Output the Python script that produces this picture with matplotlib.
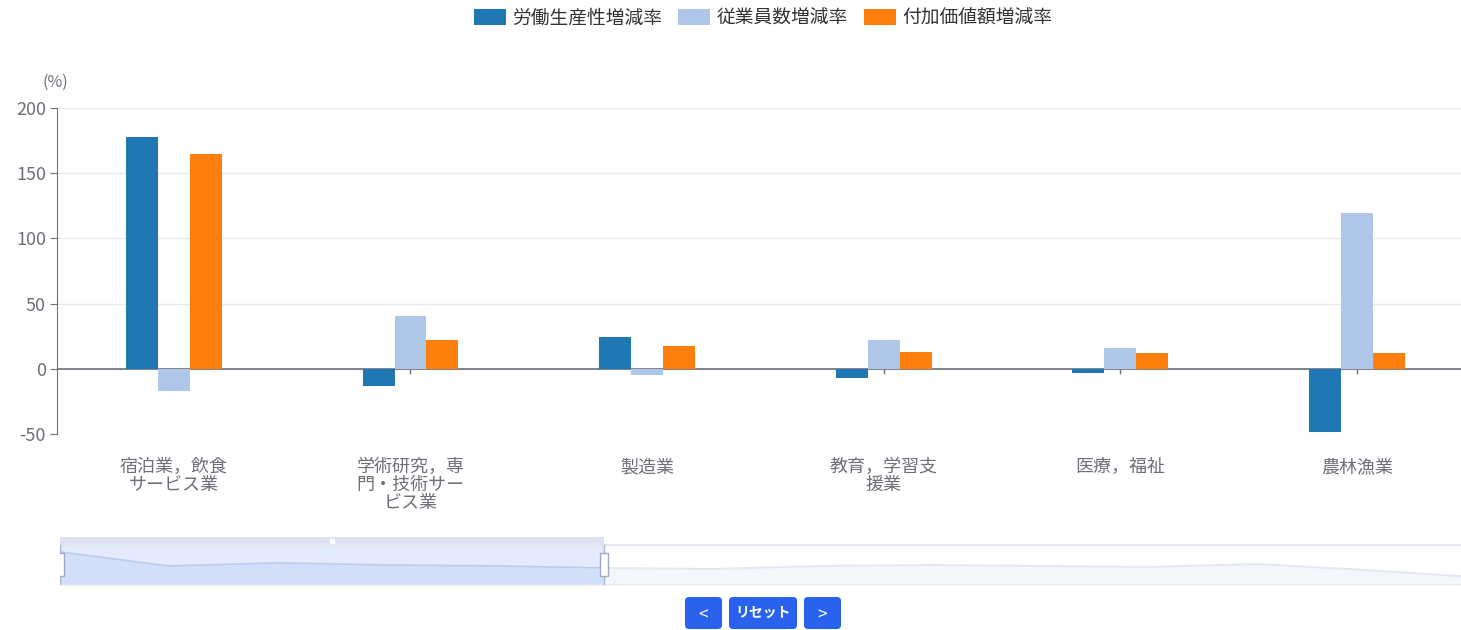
import numpy as np
import matplotlib
matplotlib.use("Agg")
import matplotlib.pyplot as plt
from matplotlib.patches import Rectangle, FancyBboxPatch, Patch

plt.rcParams['font.family'] = ['Noto Sans CJK JP', 'DejaVu Sans']
plt.rcParams['axes.unicode_minus'] = False

# data
categories = ['宿泊業，飲食\nサービス業', '学術研究，専\n門・技術サー\nビス業', '製造業',
              '教育，学習支\n援業', '医療，福祉', '農林漁業']
series_names = ['労働生産性増減率', '従業員数増減率', '付加価値額増減率']
labor_prod = [178, -13, 24.5, -7, -3, -48.5]
employees = [-17, 40.5, -5, 22, 16, 119.5]
value_added = [164.5, 22, 17.5, 13, 12, 12]
colors = ['#1f77b4', '#aec7e8', '#ff7f0e']
yticks = [-50, 0, 50, 100, 150, 200]
preview = [33, 19, 22, 20, 19, 17, 16, 19, 20, 19, 18, 21, 15, 8]
window_end = 5

W, H = 1461, 630
fig = plt.figure(figsize=(W / 100, H / 100), dpi=100)

def px_axes(x0, y0, x1, y1):
    return fig.add_axes([x0 / W, 1 - y1 / H, (x1 - x0) / W, (y1 - y0) / H])

# main chart
ax = px_axes(57, 108, 1476.6, 434)
x = np.arange(len(categories))
bw = 0.135
for i, (vals, c) in enumerate(zip([labor_prod, employees, value_added], colors)):
    ax.bar(x + (i - 1) * bw, vals, width=bw, color=c, zorder=3)
ax.vlines(x, 0, -3.8, color='#6e7079', lw=1, zorder=2)
ax.axhline(0, color='#6e7079', lw=1.2, zorder=2)
ax.set_xlim(-0.494, len(categories) - 0.494)
ax.set_ylim(-50, 200)
ax.set_yticks(yticks)
ax.yaxis.grid(True, color='#e6e9f2', lw=1)
ax.set_axisbelow(True)
ax.set_xticks([])
for s in ['top', 'right', 'bottom']:
    ax.spines[s].set_visible(False)
ax.spines['left'].set_color('#6e7079')
ax.tick_params(axis='y', colors='#6e7079', labelsize=13, length=5, pad=3)
for xi, lab in zip(x, categories):
    ax.text(xi, -0.074, lab, transform=ax.get_xaxis_transform(), ha='center', va='top',
            fontsize=13, color='#6e7079', linespacing=1.0)
fig.text(55 / W, 1 - 82 / H, '(%)', ha='center', va='center', fontsize=11.5, color='#6e7079')

# legend
handles = [Patch(facecolor=c, label=n) for c, n in zip(colors, series_names)]
fig.legend(handles=handles, loc='center', bbox_to_anchor=(763 / W, 1 - 18 / H), ncol=3,
           frameon=False, fontsize=13.5, handlelength=1.7, handleheight=0.95,
           handletextpad=0.35, columnspacing=0.85, labelcolor='#333333')

# data zoom slider
sx = px_axes(60, 537, 1474, 585)
sx.set_xlim(0, len(preview) - 1)
sx.set_ylim(0, 48)
sx.axis('off')
px = np.arange(len(preview))
sx.fill_between(px, 0, preview, color='#f3f6fb', lw=0)
sx.plot(px, preview, color='#e6e9f3', lw=1.5)
sx.plot([0, len(preview) - 1], [40, 40], color='#e4e6f0', lw=1.5)
sx.plot([0, len(preview) - 1], [0, 0], color='#e4e6f0', lw=1.5)
sx.add_patch(Rectangle((0, 0), window_end, 40, color='#e4ebfc', lw=0))
sel = px[:window_end + 1]
sx.fill_between(sel, 0, preview[:window_end + 1], color='#d2dff9', lw=0)
sx.plot(sel, preview[:window_end + 1], color='#b9cbf2', lw=1.2)
sx.add_patch(Rectangle((0, 40), window_end, 8, color='#dde1f1', lw=0))
sx.plot([window_end / 2], [44], marker='s', ms=2.5, color='white')
for hx in [0, window_end]:
    sx.plot([hx, hx], [0, 40], color='#aab6d3', lw=1)
    sx.add_patch(Rectangle((hx - 0.035, 9), 0.07, 23, facecolor='white',
                           edgecolor='#9fa8c4', lw=1, zorder=5))

# buttons
ov = fig.add_axes([0, 0, 1, 1])
ov.set_xlim(0, W)
ov.set_ylim(H, 0)
ov.axis('off')
for (bx0, bx1, lab, fs, ty) in [(685, 722, '<', 12.5, 616), (729, 797, 'リセット', 10, 613),
                                (804, 841, '>', 12.5, 616)]:
    ov.add_patch(FancyBboxPatch((bx0 + 3, 600), bx1 - bx0 - 6, 26,
                                boxstyle='round,pad=3,rounding_size=4',
                                facecolor='#2962ec', edgecolor='none'))
    ov.text((bx0 + bx1) / 2, ty, lab, ha='center', va='center', color='white',
            fontsize=fs, fontweight='bold' if len(lab) > 1 else 'normal')

fig.savefig('out.png', dpi=100)
